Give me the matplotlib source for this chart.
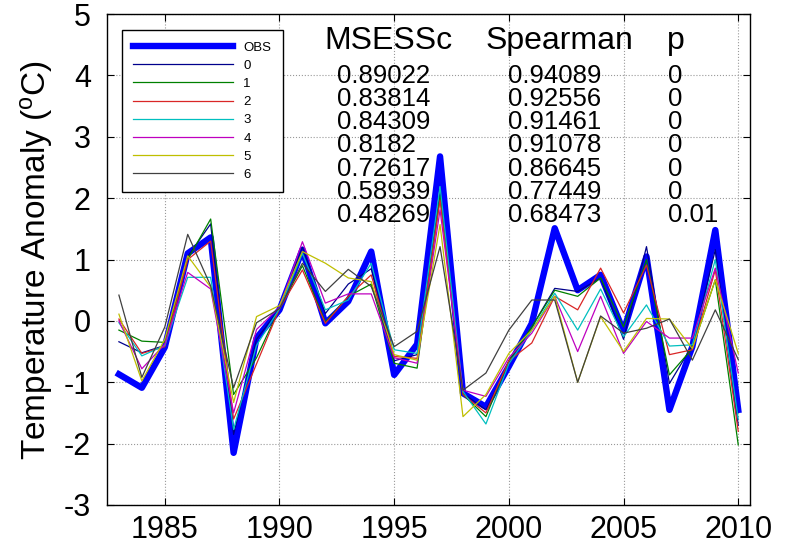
import numpy as np
import matplotlib
matplotlib.use('Agg')
import matplotlib.pyplot as plt

plt.rcParams['font.family'] = ['Liberation Sans', 'DejaVu Sans']
plt.rcParams['axes.unicode_minus'] = False

years = np.arange(1983, 2011)

obs = [-0.87, -1.09, -0.43, 1.10, 1.36, -2.15, -0.28, 0.18, 1.16, -0.04,
       0.32, 1.13, -0.88, -0.38, 2.68, -1.18, -1.40, -0.74, -0.04, 1.51,
       0.50, 0.75, -0.17, 1.05, -1.45, -0.42, 1.48, -1.45]

m0 = [-0.34, -0.52, -0.40, 1.05, 1.58, -1.85, -0.30, 0.20, 1.20, 0.12,
      0.60, 0.85, -0.65, -0.55, 2.10, -1.18, -1.45, -0.70, -0.10, 0.53,
      0.48, 0.70, -0.30, 1.21, -1.02, -0.40, 1.16, -1.70]
m1 = [-0.15, -0.33, -0.35, 1.00, 1.66, -1.20, -0.60, 0.20, 0.90, -0.02,
      0.40, 0.60, -0.69, -0.77, 2.03, -1.20, -1.56, -0.65, -0.10, 0.50,
      0.40, 0.70, -0.10, 1.00, -0.88, -0.45, 0.67, -2.02]
m2 = [0.03, -0.53, -0.42, 1.00, 1.30, -1.60, -0.70, 0.20, 0.83, -0.04,
      0.40, 0.75, -0.58, -0.61, 1.97, -1.20, -1.50, -0.65, -0.36, 0.40,
      0.18, 0.86, 0.13, 0.91, -0.55, -0.47, 0.83, -1.80]
m3 = [-0.03, -0.57, -0.40, 0.71, 0.71, -1.77, -0.40, 0.20, 1.10, 0.18,
      0.34, 0.94, -0.47, -0.53, 2.19, -1.15, -1.68, -0.70, -0.15, 0.45,
      -0.15, 0.52, -0.26, 0.26, -0.41, -0.39, 1.00, -1.60]
m4 = [0.00, -0.78, -0.38, 0.79, 0.52, -1.50, -0.14, 0.22, 1.29, 0.29,
      0.44, 0.44, -0.60, -0.69, 1.81, -1.13, -1.23, -0.60, -0.20, 0.40,
      -0.50, 0.40, -0.53, -0.01, -0.28, -0.28, 0.86, -0.85]
m5 = [0.11, -0.98, -0.30, 1.06, 0.55, -1.33, 0.07, 0.25, 1.13, 0.94,
      0.70, 0.64, -0.55, -0.64, 1.57, -1.56, -1.20, -0.53, -0.15, 0.40,
      -1.00, 0.07, -0.50, 0.04, 0.03, -0.45, 0.67, -0.53]
m6 = [0.42, -0.92, -0.10, 1.41, 0.57, -1.09, -0.03, 0.20, 0.94, 0.48,
      0.84, 0.56, -0.42, -0.17, 1.21, -1.13, -0.85, -0.15, 0.34, 0.34,
      -1.00, 0.08, -0.20, -0.12, 0.03, -0.64, 0.18, -0.63]

models = [m0, m1, m2, m3, m4, m5, m6]
labels = ['0', '1', '2', '3', '4', '5', '6']
colors = [(0, 0, 0.55), (0, 0.5, 0), (0.85, 0.15, 0.15), (0, 0.75, 0.75),
          (0.75, 0, 0.75), (0.75, 0.75, 0), (0.25, 0.25, 0.25)]

msessc = ['0.89022', '0.83814', '0.84309', '0.8182', '0.72617', '0.58939', '0.48269']
spearman = ['0.94089', '0.92556', '0.91461', '0.91078', '0.86645', '0.77449', '0.68473']
pvals = ['0', '0', '0', '0', '0', '0', '0.01']

fig = plt.figure(figsize=(7.9, 5.51), dpi=100)
ax = fig.add_axes([0.136, 0.0835, 0.813, 0.891])

ax.plot(years, obs, c=(0, 0, 1), lw=4.6, label='OBS')
for m, lab, col in zip(models, labels, colors):
    ax.plot(years, m, c=col, lw=0.9, label=lab)

ax.set_xlim(1982.5, 2010.5)
ax.set_ylim(-3, 5)
ax.set_xticks(range(1985, 2011, 5))
ax.set_yticks(range(-3, 6))
ax.grid(True, ls=':', color='0.6', lw=0.8)
ax.tick_params(direction='in', top=True, right=True, length=5, labelsize=22)
ax.tick_params(axis='x', pad=7)
ax.tick_params(axis='y', pad=12)
for s in ax.spines.values():
    s.set_linewidth(1.0)
ax.set_ylabel(r'Temperature Anomaly ($\mathregular{^{o}}$C)', fontsize=24, labelpad=6)

# stats table
ax.text(1991.95, 4.56, 'MSESSc', fontsize=23, va='center', ha='left')
ax.text(1999.0, 4.56, 'Spearman', fontsize=23, va='center', ha='left')
ax.text(2006.9, 4.56, 'p', fontsize=23, va='center', ha='left')
for i in range(len(msessc)):
    yy = 3.99 - 0.377 * i
    ax.text(1992.5, yy, msessc[i], fontsize=18.5, va='center', ha='left')
    ax.text(1999.95, yy, spearman[i], fontsize=18.5, va='center', ha='left')
    ax.text(2006.95, yy, pvals[i], fontsize=18.5, va='center', ha='left')

leg = ax.legend(loc='upper left', bbox_to_anchor=(0.0226, 0.967), fontsize=9.5,
                handlelength=7.6, handletextpad=0.75, labelspacing=0.45,
                borderpad=0.85, borderaxespad=0, fancybox=False, framealpha=1,
                edgecolor='black')
leg.get_frame().set_linewidth(1.0)

plt.savefig('out.png', dpi=100)
